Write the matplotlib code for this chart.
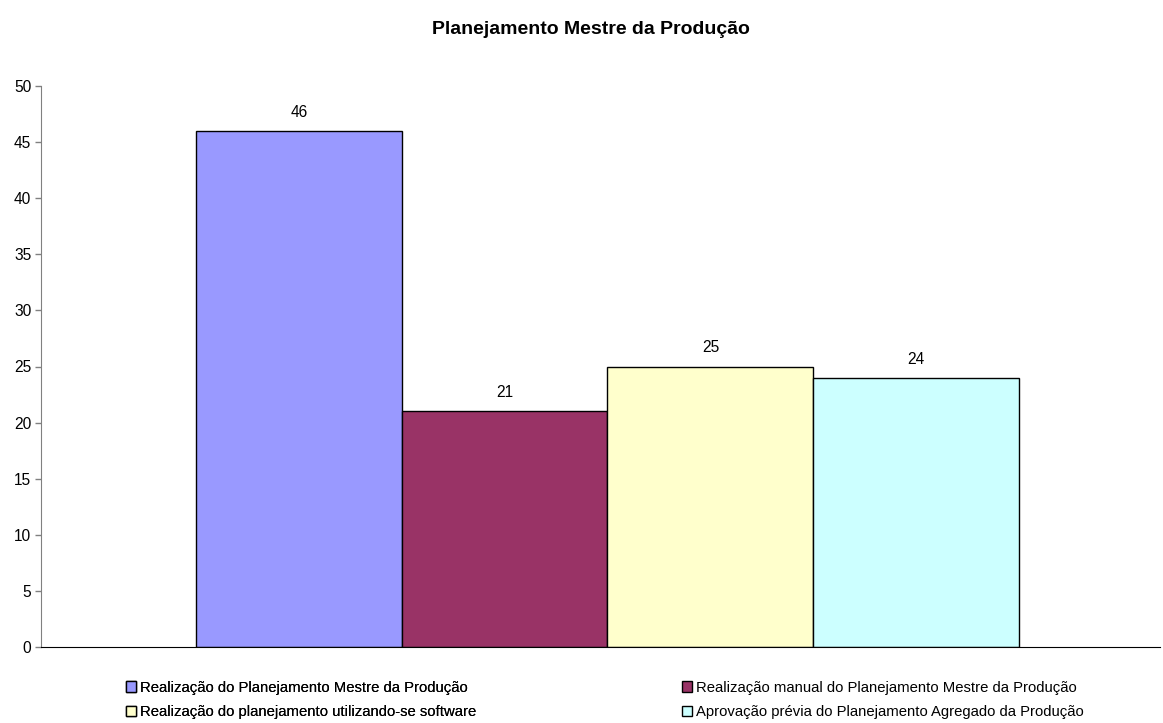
import numpy as np
import matplotlib.pyplot as plt
from matplotlib.patches import Patch

plt.rcParams['font.family'] = ['Liberation Sans', 'DejaVu Sans']

# data
title = "Planejamento Mestre da Produção"
labels = [
    "Realização do Planejamento Mestre da Produção",
    "Realização manual do Planejamento Mestre da Produção",
    "Realização do planejamento utilizando-se software",
    "Aprovação prévia do Planejamento Agregado da Produção",
]
values = [46, 21, 25, 24]
colors = ['#9999FF', '#993366', '#FFFFCC', '#CCFFFF']

FS = 10.75

fig = plt.figure(figsize=(11.63, 7.23), dpi=100)
ax = fig.add_axes([41 / 1163, 1 - 647 / 723, 1119 / 1163, (647 - 86) / 723])

n = len(values)
x = np.arange(n) - (n - 1) / 2
bars = ax.bar(x, values, width=1.0, color=colors, edgecolor='black', linewidth=1)
for xi, v in zip(x, values):
    ax.annotate(str(v), (xi, v), xytext=(0, 8), textcoords='offset points',
                ha='center', va='bottom', fontsize=11.2)

ax.set_xlim(-2.753, 2.685)
ax.set_ylim(0, 50)
ax.set_yticks(range(0, 51, 5))
ax.set_xticks([])
ax.tick_params(axis='y', direction='out', length=4, width=1, color='#808080', labelsize=11.2, pad=3)
ax.spines['top'].set_visible(False)
ax.spines['right'].set_visible(False)
ax.spines['left'].set_color('#808080')
ax.spines['bottom'].set_color('black')

fig.text(591 / 1163, 1 - 30 / 723, title, ha='center', va='center', fontsize=14, fontweight='bold')

handles = [Patch(facecolor=c, edgecolor='black', linewidth=1) for c in colors]
leg_kw = dict(frameon=False, fontsize=FS, handlelength=0.7, handleheight=0.7,
              handletextpad=0.25, borderpad=0, borderaxespad=0, labelspacing=0.7,
              loc='center left')
leg1 = fig.legend([handles[0], handles[2]], [labels[0], labels[2]],
                  bbox_to_anchor=(126 / 1163, 1 - 700 / 723), **leg_kw)
fig.add_artist(leg1)
fig.legend([handles[1], handles[3]], [labels[1], labels[3]],
           bbox_to_anchor=(682 / 1163, 1 - 700 / 723), **leg_kw)

fig.savefig('out.png', dpi=100)
